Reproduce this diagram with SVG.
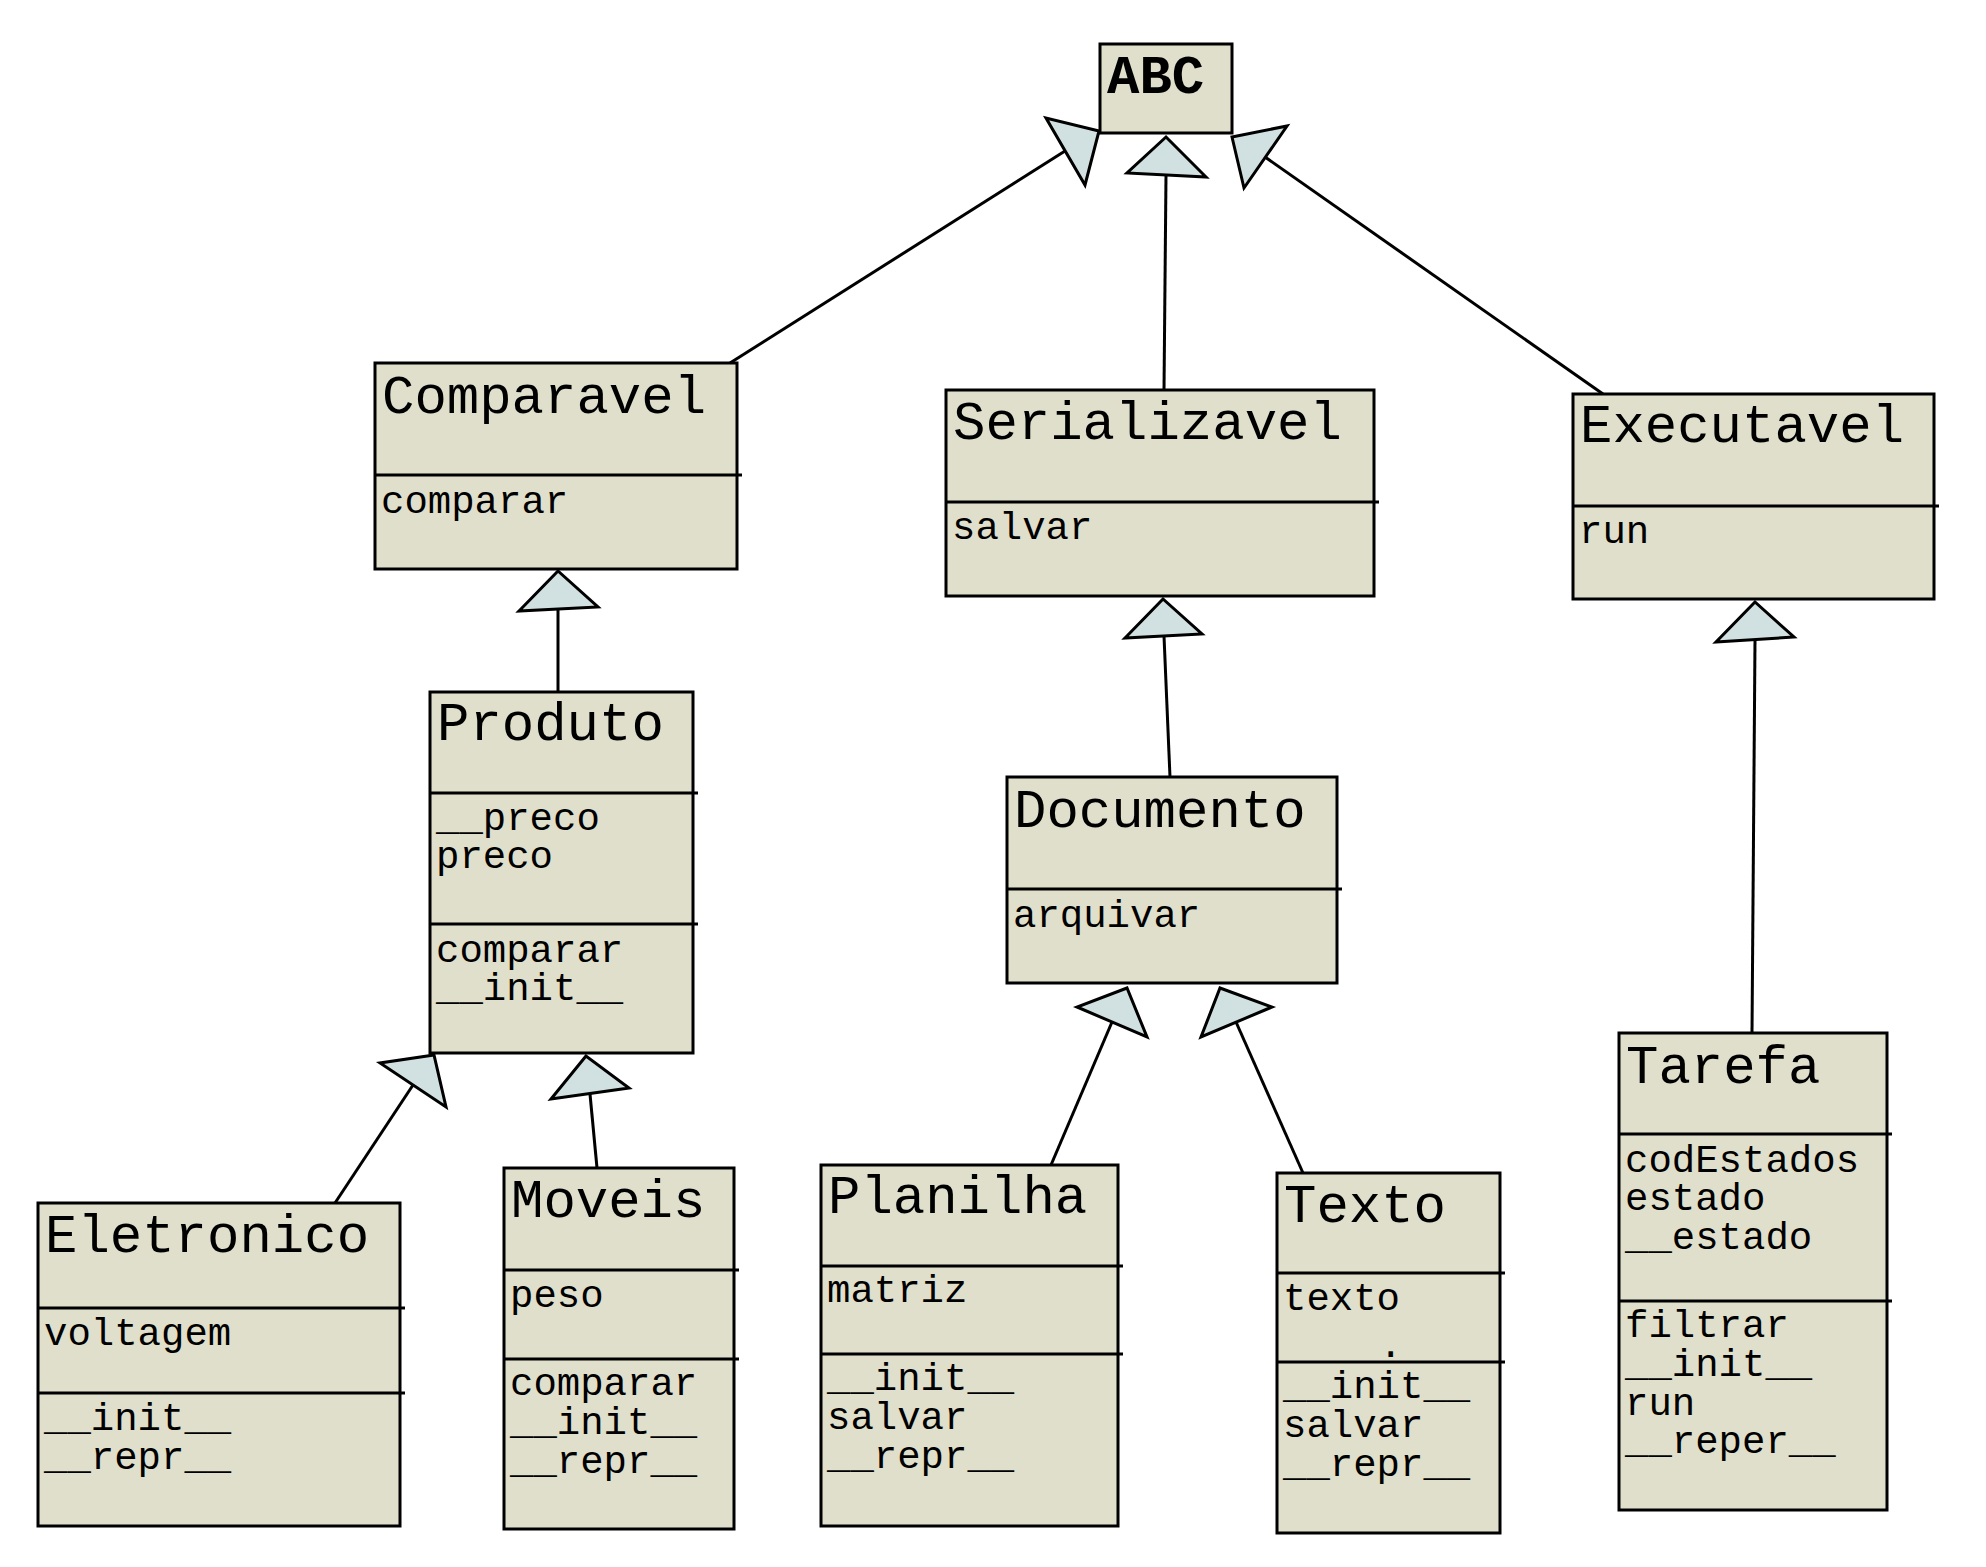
<svg xmlns="http://www.w3.org/2000/svg" width="1986" height="1567" viewBox="0 0 1986 1567">
<style>
.box{fill:#dfdfcb;stroke:#000;stroke-width:3}
.div{stroke:#000;stroke-width:3}
.t{font-family:"Liberation Mono","Courier New",monospace;font-size:54px;fill:#000}
.m{font-family:"Liberation Mono","Courier New",monospace;font-size:39px;fill:#000}
.edge{stroke:#000;stroke-width:3;fill:none}
.head{fill:#d1e0e0;stroke:#000;stroke-width:3;stroke-linejoin:miter}
</style>
<rect width="1986" height="1567" fill="#fff"/>
<g id="connectors">
<line class="edge" x1="730" y1="363" x2="1065" y2="151"/>
<polygon class="head" points="1099,131 1046,118 1085,185"/>
<line class="edge" x1="1164" y1="390" x2="1166" y2="175"/>
<polygon class="head" points="1166,137 1127,173 1206,177"/>
<line class="edge" x1="1603" y1="394" x2="1265" y2="157"/>
<polygon class="head" points="1232,137 1287,126 1244,188"/>
<line class="edge" x1="558" y1="692" x2="558" y2="609"/>
<polygon class="head" points="558,571 519,611 598,607"/>
<line class="edge" x1="1170" y1="777" x2="1164" y2="636"/>
<polygon class="head" points="1163,599 1125,638 1202,634"/>
<line class="edge" x1="1752" y1="1033" x2="1755" y2="640"/>
<polygon class="head" points="1755,602 1716,642 1794,637"/>
<line class="edge" x1="335" y1="1203" x2="413" y2="1085"/>
<polygon class="head" points="434,1055 380,1063 446,1107"/>
<line class="edge" x1="597" y1="1168" x2="590" y2="1094"/>
<polygon class="head" points="586,1056 551,1099 629,1088"/>
<line class="edge" x1="1051" y1="1165" x2="1112" y2="1022"/>
<polygon class="head" points="1127,988 1077,1007 1147,1037"/>
<line class="edge" x1="1303" y1="1173" x2="1236" y2="1022"/>
<polygon class="head" points="1220,988 1272,1007 1201,1037"/>
</g>
<g id="ABC">
<rect class="box" x="1100" y="44" width="132" height="89"/>
<text class="t" x="1107" y="93" font-weight="bold">ABC</text>
</g>
<g id="Comparavel">
<rect class="box" x="375" y="363" width="362" height="206"/>
<line class="div" x1="375" y1="475" x2="742" y2="475"/>
<text class="t" x="382" y="413">Comparavel</text>
<text class="m" x="381" y="513">comparar</text>
</g>
<g id="Serializavel">
<rect class="box" x="946" y="390" width="428" height="206"/>
<line class="div" x1="946" y1="502" x2="1379" y2="502"/>
<text class="t" x="953" y="439">Serializavel</text>
<text class="m" x="952" y="539">salvar</text>
</g>
<g id="Executavel">
<rect class="box" x="1573" y="394" width="361" height="205"/>
<line class="div" x1="1573" y1="506" x2="1939" y2="506"/>
<text class="t" x="1580" y="442">Executavel</text>
<text class="m" x="1579" y="543">run</text>
</g>
<g id="Produto">
<rect class="box" x="430" y="692" width="263" height="361"/>
<line class="div" x1="430" y1="793" x2="698" y2="793"/>
<line class="div" x1="430" y1="924" x2="698" y2="924"/>
<text class="t" x="437" y="740">Produto</text>
<text class="m" x="436" y="830">__preco</text>
<text class="m" x="436" y="868">preco</text>
<text class="m" x="436" y="962">comparar</text>
<text class="m" x="436" y="1000">__init__</text>
</g>
<g id="Documento">
<rect class="box" x="1007" y="777" width="330" height="206"/>
<line class="div" x1="1007" y1="889" x2="1342" y2="889"/>
<text class="t" x="1014" y="827">Documento</text>
<text class="m" x="1013" y="927">arquivar</text>
</g>
<g id="Eletronico">
<rect class="box" x="38" y="1203" width="362" height="323"/>
<line class="div" x1="38" y1="1308" x2="405" y2="1308"/>
<line class="div" x1="38" y1="1393" x2="405" y2="1393"/>
<text class="t" x="45" y="1252">Eletronico</text>
<text class="m" x="44" y="1345">voltagem</text>
<text class="m" x="44" y="1430">__init__</text>
<text class="m" x="44" y="1469">__repr__</text>
</g>
<g id="Moveis">
<rect class="box" x="504" y="1168" width="230" height="361"/>
<line class="div" x1="504" y1="1270" x2="739" y2="1270"/>
<line class="div" x1="504" y1="1359" x2="739" y2="1359"/>
<text class="t" x="511" y="1217">Moveis</text>
<text class="m" x="510" y="1307">peso</text>
<text class="m" x="510" y="1395">comparar</text>
<text class="m" x="510" y="1434">__init__</text>
<text class="m" x="510" y="1473">__repr__</text>
</g>
<g id="Planilha">
<rect class="box" x="821" y="1165" width="297" height="361"/>
<line class="div" x1="821" y1="1266" x2="1123" y2="1266"/>
<line class="div" x1="821" y1="1354" x2="1123" y2="1354"/>
<text class="t" x="828" y="1213">Planilha</text>
<text class="m" x="827" y="1302">matriz</text>
<text class="m" x="827" y="1390">__init__</text>
<text class="m" x="827" y="1429">salvar</text>
<text class="m" x="827" y="1468">__repr__</text>
</g>
<g id="Texto">
<rect class="box" x="1277" y="1173" width="223" height="360"/>
<line class="div" x1="1277" y1="1273" x2="1505" y2="1273"/>
<line class="div" x1="1277" y1="1362" x2="1505" y2="1362"/>
<text class="t" x="1284" y="1222">Texto</text>
<text class="m" x="1283" y="1310">texto</text>
<text class="m" x="1379" y="1357">.</text>
<text class="m" x="1283" y="1398">__init__</text>
<text class="m" x="1283" y="1437">salvar</text>
<text class="m" x="1283" y="1476">__repr__</text>
</g>
<g id="Tarefa">
<rect class="box" x="1619" y="1033" width="268" height="477"/>
<line class="div" x1="1619" y1="1134" x2="1892" y2="1134"/>
<line class="div" x1="1619" y1="1301" x2="1892" y2="1301"/>
<text class="t" x="1626" y="1083">Tarefa</text>
<text class="m" x="1625" y="1172">codEstados</text>
<text class="m" x="1625" y="1210">estado</text>
<text class="m" x="1625" y="1249">__estado</text>
<text class="m" x="1625" y="1337">filtrar</text>
<text class="m" x="1625" y="1376">__init__</text>
<text class="m" x="1625" y="1415">run</text>
<text class="m" x="1625" y="1453">__reper__</text>
</g>
</svg>
